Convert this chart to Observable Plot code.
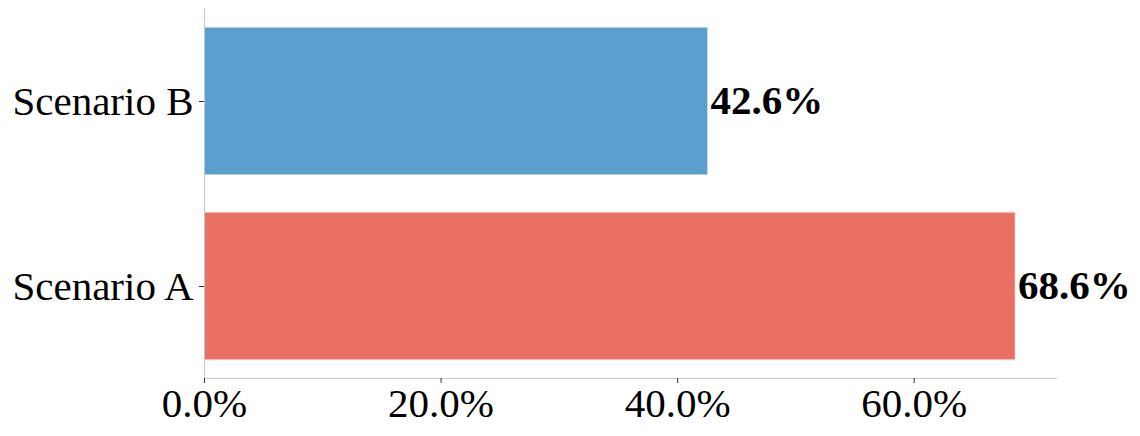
<!DOCTYPE html>
<html>
<head>
<meta charset="utf-8">
<script src="https://cdn.jsdelivr.net/npm/d3@7"></script>
<script src="https://cdn.jsdelivr.net/npm/@observablehq/plot@0.6"></script>
<style>
  html, body { margin: 0; padding: 0; background: #fff; }
</style>
</head>
<body>
<div id="chart"></div>
<script>
const categories = ["Scenario A", "Scenario B"];
const values = [68.6, 42.6];
const barColors = ["#eb7064", "#5a9fcd"];
const xTicks = [0, 20, 40, 60];

const data = categories.map((c, i) => ({cat: c, value: values[i], color: barColors[i]}));
const fmt = d => d.toFixed(1) + "%";

const chart = Plot.plot({
  width: 1140,
  height: 436,
  marginLeft: 204,
  marginRight: 84,
  marginTop: 8,
  marginBottom: 58,
  style: {fontFamily: "'Liberation Serif', 'Times New Roman', serif", fontSize: "41px", color: "#000", background: "#fff"},
  x: {domain: [0, 72.03], label: null},
  y: {domain: ["Scenario B", "Scenario A"], paddingInner: 0.2, paddingOuter: 0.095, label: null},
  color: {type: "identity"},
  marks: [
    Plot.barX(data, {x: "value", y: "cat", fill: "color", stroke: "#ffffff", strokeOpacity: 0.7, strokeWidth: 1.5}),
    Plot.text(data, {x: "value", y: "cat", text: d => fmt(d.value), textAnchor: "start", dx: 2, dy: -1, fontWeight: "bold", fontSize: 41, fill: "#000"}),
    Plot.frame({anchor: "left", stroke: "#c4c8cc"}),
    Plot.frame({anchor: "bottom", stroke: "#c4c8cc"}),
    Plot.axisX({ticks: xTicks, tickFormat: fmt, tickSize: 5, tickPadding: 4, fontSize: 41, stroke: "#333", label: null}),
    Plot.axisY({tickSize: 5, tickPadding: 6, fontSize: 41, stroke: "#333", label: null})
  ]
});
document.getElementById("chart").appendChild(chart);
</script>
</body>
</html>
